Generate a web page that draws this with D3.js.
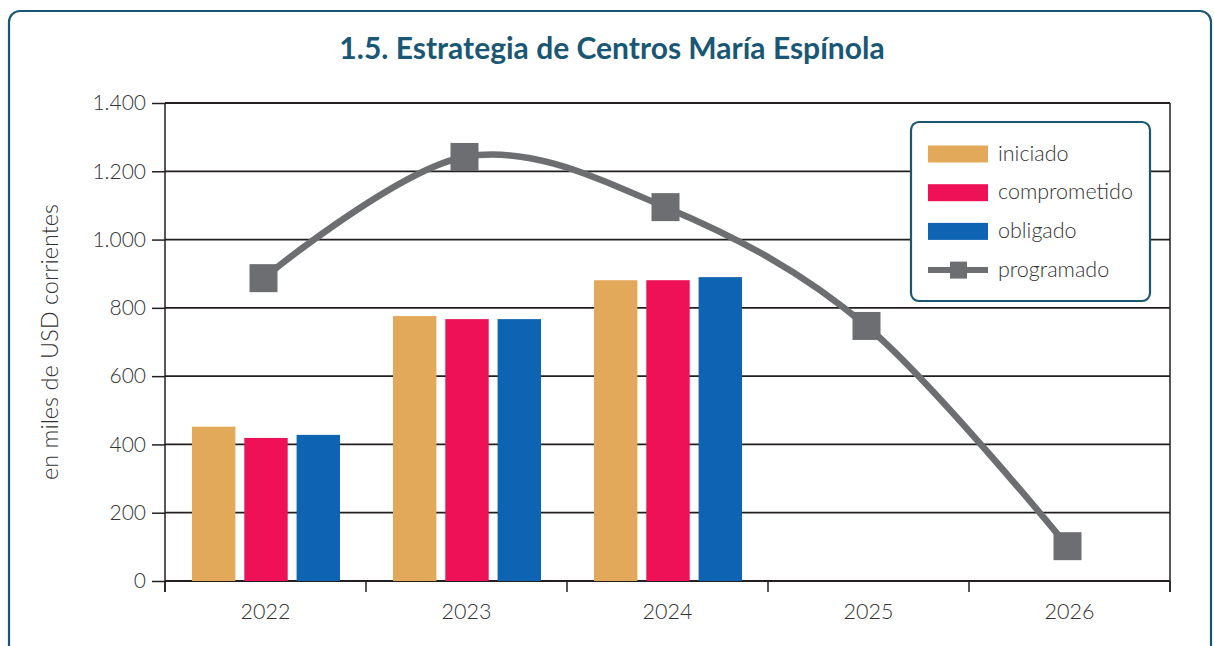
<!DOCTYPE html>
<html><head><meta charset="utf-8">
<script src="https://cdn.jsdelivr.net/npm/d3@7"></script>
<style>
body{margin:0;background:#fff;}
svg text{font-family:Lato,"Open Sans",sans-serif;}
</style></head>
<body><svg id="c" width="1214" height="646"></svg>
<script>
const years = ["2022","2023","2024","2025","2026"];
const seriesNames = ["iniciado","comprometido","obligado"];
const iniciado = [452, 776, 881, null, null];
const comprometido = [419, 767, 881, null, null];
const obligado = [428, 767, 890, null, null];
const programado = [887, 1242, 1095, 747, 102];
const yTicks = [0,200,400,600,800,1000,1200,1400];
const colors = {iniciado:"#e3a95b", comprometido:"#ee1158", obligado:"#0e63b2", programado:"#6d6e71"};

const svg = d3.select("#c");
const L=165, R=1170, T=103, B=581;
const teal="#1a5774";
const txt="#333";

svg.append("rect").attr("x",9).attr("y",11).attr("width",1202).attr("height",660)
  .attr("rx",11).attr("fill","none").attr("stroke",teal).attr("stroke-width",2.2);

svg.append("text").attr("x",612).attr("y",59).attr("text-anchor","middle")
  .attr("font-size",30).attr("font-weight",700).attr("fill",teal)
  .text("1.5. Estrategia de Centros María Espínola");

const x = d3.scaleBand().domain(years).range([L,R]);
const y = d3.scaleLinear().domain([0,1400]).range([B,T]);
const xs = d3.scaleBand().domain(seriesNames).range([27,175]).paddingInner(0.17);

svg.append("g").selectAll("line").data(yTicks).join("line")
  .attr("x1",L).attr("x2",R).attr("y1",d=>y(d)).attr("y2",d=>y(d))
  .attr("stroke","#231f20").attr("stroke-width",1.8);

const ya = svg.append("g").attr("transform",`translate(${L},0)`)
  .call(d3.axisLeft(y).tickValues(yTicks).tickSize(13).tickPadding(6)
    .tickFormat(d=>d3.format(",")(d).replace(/,/g,".")));
ya.select(".domain").remove();
ya.selectAll("line").attr("stroke","#231f20").attr("stroke-width",1.5);
ya.selectAll("text").attr("font-size",21).attr("font-weight",300).attr("fill",txt)
  .attr("font-family","Lato,sans-serif");

svg.append("line").attr("x1",L).attr("x2",L).attr("y1",T).attr("y2",B+11).attr("stroke","#231f20").attr("stroke-width",1.5);
svg.append("line").attr("x1",R).attr("x2",R).attr("y1",T).attr("y2",B+11).attr("stroke","#231f20").attr("stroke-width",1.5);

const edges = years.map(d=>x(d)).concat([R]);
svg.append("g").selectAll("line").data(edges).join("line")
  .attr("x1",d=>d).attr("x2",d=>d).attr("y1",B).attr("y2",B+11)
  .attr("stroke","#231f20").attr("stroke-width",1.5);
svg.append("g").selectAll("text").data(years).join("text")
  .attr("x",d=>x(d)+x.bandwidth()/2).attr("y",B+38).attr("text-anchor","middle")
  .attr("font-size",21.5).attr("font-weight",300).attr("fill",txt).text(d=>d);

svg.append("text").attr("transform","translate(58,342) rotate(-90)").attr("text-anchor","middle")
  .attr("font-size",23.5).attr("font-weight",300).attr("fill",txt).text("en miles de USD corrientes");

const seriesData = {iniciado, comprometido, obligado};
seriesNames.forEach(s=>{
  svg.append("g").selectAll("rect").data(years.map((yr,i)=>({yr,v:seriesData[s][i]})).filter(d=>d.v!=null))
    .join("rect").attr("x",d=>x(d.yr)+xs(s)).attr("width",xs.bandwidth())
    .attr("y",d=>y(d.v)).attr("height",d=>B-y(d.v)).attr("fill",colors[s]);
});

const pts = years.map((yr,i)=>[x(yr)+x.bandwidth()/2-2, y(programado[i])]);
svg.append("path").attr("d",d3.line().curve(d3.curveCardinal.tension(0))(pts))
  .attr("fill","none").attr("stroke",colors.programado).attr("stroke-width",6.5);
svg.append("g").selectAll("rect").data(pts).join("rect")
  .attr("x",d=>d[0]-14).attr("y",d=>d[1]-14).attr("width",28).attr("height",28)
  .attr("fill",colors.programado);

const lg = svg.append("g");
lg.append("rect").attr("x",911).attr("y",122).attr("width",239).attr("height",179).attr("rx",8)
  .attr("fill","#fff").attr("stroke",teal).attr("stroke-width",2.2);
const legItems = seriesNames.concat(["programado"]);
legItems.forEach((s,i)=>{
  const cy = 154 + i*38.7;
  if(s!=="programado"){
    lg.append("rect").attr("x",928).attr("y",cy-8.5).attr("width",60).attr("height",17).attr("fill",colors[s]);
  } else {
    lg.append("line").attr("x1",928).attr("x2",988).attr("y1",cy).attr("y2",cy).attr("stroke",colors[s]).attr("stroke-width",6);
    lg.append("rect").attr("x",950).attr("y",cy-8.5).attr("width",17).attr("height",17).attr("fill",colors[s]);
  }
  lg.append("text").attr("x",998).attr("y",cy+6.5).attr("font-size",21.5).attr("font-weight",300)
    .attr("fill",txt).text(s);
});
</script></body></html>
